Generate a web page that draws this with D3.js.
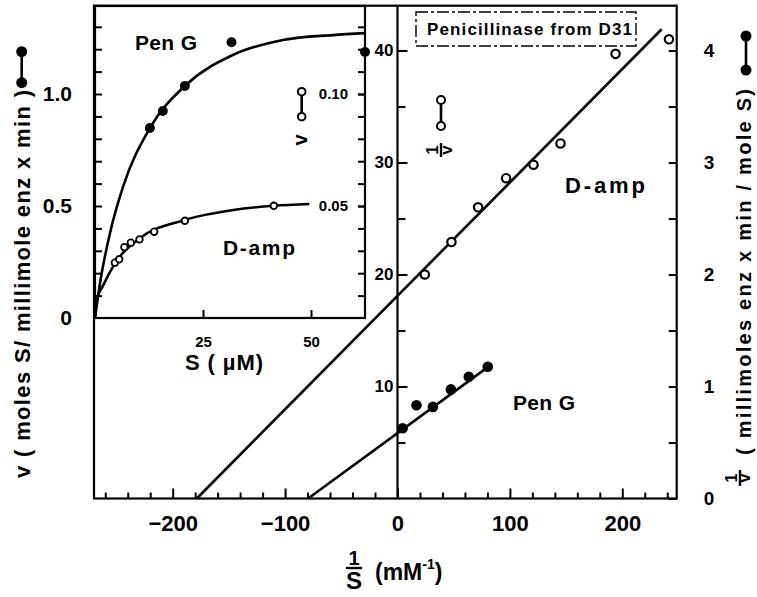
<!DOCTYPE html>
<html><head><meta charset="utf-8">
<script src="https://cdn.jsdelivr.net/npm/d3@7"></script>
<style>
html,body{margin:0;padding:0;background:#fff;}
text{font-family:"Liberation Sans",Arial,sans-serif;font-weight:bold;fill:#000;}
</style></head>
<body>
<svg id="chart" width="757" height="597"></svg>
<script>
// ---------- DATA ----------
// Main Lineweaver-Burk plot: x = 1/S (mM^-1)
const dampInvS   = [24.3, 48.0, 71.7, 96.6, 121, 145, 194, 241.5];
const dampInvV   = [20.0, 22.9, 26.0, 28.6, 29.8, 31.7, 39.7, 41.0];   // left scale (x 1)
const pengInvS   = [4.6, 16.9, 31.5, 47.5, 63.4, 80.3];
const pengInvV   = [0.627, 0.833, 0.818, 0.974, 1.087, 1.177];          // right scale
const dampLineX  = [-178.6, 235];
const dampLineY  = [0, 41.9];
const pengLineX  = [-79.5, 84];
const pengLineY  = [0, 1.2];
// Inset Michaelis-Menten plot: S (µM) vs v
const pengS      = [12.7, 15.7, 20.8, 31.6, 62.5];
const pengV      = [0.848, 0.924, 1.036, 1.231, 1.1875];
const dampS      = [4.6, 5.6, 6.8, 8.3, 10.3, 13.7, 20.8, 41.4];
const dampV      = [0.0247, 0.0262, 0.0316, 0.0336, 0.0351, 0.0385, 0.0434, 0.0501];
const pengCurveS = [0, 1.16, 3.47, 6.48, 12.7, 20.8, 31.9, 43.5, 55.1, 62.5];
const pengCurveV = [0, 0.156, 0.379, 0.585, 0.848, 1.036, 1.174, 1.241, 1.263, 1.272];
const dampCurveS = [0, 0.39, 1.92, 4.63, 10.4, 20.8, 32.0, 41.4, 49.6];
const dampCurveV = [0, 0.0080, 0.0147, 0.0244, 0.0356, 0.0438, 0.0482, 0.0501, 0.0509];
// Tick labels
const xMajorTicks  = [-200, -100, 0, 100, 200];
const leftMainTicks = [10, 20, 30, 40];
const rightTicks   = [0, 1, 2, 3, 4];
const insetLTicks  = [0, 0.5, 1.0];
const insetRTicks  = [0.05, 0.10];
const insetSTicks  = [25, 50];

// ---------- SETUP ----------
const svg = d3.select("#chart");
svg.append("rect").attr("width",757).attr("height",597).attr("fill","#fff");

const x  = d3.scaleLinear().domain([-270, 248.4]).range([94, 676.7]);
const yL = d3.scaleLinear().domain([0, 44]).range([498.5, 5.7]);
const yR = d3.scaleLinear().domain([0, 4.4]).range([498.5, 5.7]);

const sx = d3.scaleLinear().domain([0, 62.5]).range([95, 365]);
const vL = d3.scaleLinear().domain([0, 1.3929]).range([318, 6]);
const vR = d3.scaleLinear().domain([0, 0.13929]).range([318, 6]);

const LW = 2.6;

// ---------- MAIN FRAME ----------
svg.append("rect").attr("x",x(-270)).attr("y",yL(44)).attr("width",x(248.4)-x(-270))
  .attr("height",yL(0)-yL(44)).attr("fill","none").attr("stroke","#000").attr("stroke-width",2.2);

svg.append("line").attr("x1",x(0)).attr("x2",x(0)).attr("y1",yL(44)).attr("y2",yL(0))
  .attr("stroke","#000").attr("stroke-width",2.2);

const minorX = d3.range(-260, 241, 20).filter(v => !xMajorTicks.includes(v));
svg.append("g").attr("transform",`translate(0,${yL(0)})`)
  .call(d3.axisBottom(x).tickValues(minorX).tickSize(-6).tickFormat(""));
const gxMaj = svg.append("g").attr("transform",`translate(0,${yL(0)})`)
  .call(d3.axisBottom(x).tickValues(xMajorTicks).tickSizeInner(-10).tickSizeOuter(0).tickPadding(16.5)
    .tickFormat(d => d < 0 ? "\u2212" + (-d) : d));
gxMaj.selectAll("text").style("font-size","22px");

const gyMid = svg.append("g").attr("transform",`translate(${x(0)},0)`)
  .call(d3.axisLeft(yL).tickValues(leftMainTicks).tickSizeInner(-10).tickSizeOuter(0).tickPadding(4));
gyMid.selectAll("text").style("font-size","17px");
svg.append("g").attr("transform",`translate(${x(0)},0)`)
  .call(d3.axisLeft(yL).tickValues([5,15,25,35]).tickSize(-8).tickFormat(""));

const gyR = svg.append("g").attr("transform",`translate(${x(248.4)},0)`)
  .call(d3.axisRight(yR).tickValues(rightTicks).tickSizeInner(-8).tickSizeOuter(0).tickPadding(27)
    .tickFormat(d3.format("d")));
gyR.selectAll("text").style("font-size","19px");
svg.append("g").attr("transform",`translate(${x(248.4)},0)`)
  .call(d3.axisRight(yR).tickValues([0.5,1.5,2.5,3.5]).tickSize(-8).tickFormat(""));

svg.selectAll(".domain").remove();
svg.selectAll(".tick line").attr("stroke","#000").attr("stroke-width",2);

// ---------- MAIN LINES & POINTS ----------
const lineD = d3.line().x(d => x(d[0])).y(d => yL(d[1]));
const lineP = d3.line().x(d => x(d[0])).y(d => yR(d[1]));
svg.append("path").datum(d3.zip(dampLineX, dampLineY)).attr("d", lineD)
  .attr("fill","none").attr("stroke","#000").attr("stroke-width",LW);
svg.append("path").datum(d3.zip(pengLineX, pengLineY)).attr("d", lineP)
  .attr("fill","none").attr("stroke","#000").attr("stroke-width",LW);

svg.append("g").selectAll("circle").data(d3.zip(dampInvS, dampInvV)).join("circle")
  .attr("cx", d => x(d[0])).attr("cy", d => yL(d[1])).attr("r",4.2)
  .attr("fill","#fff").attr("stroke","#000").attr("stroke-width",2.2);
svg.append("g").selectAll("circle").data(d3.zip(pengInvS, pengInvV)).join("circle")
  .attr("cx", d => x(d[0])).attr("cy", d => yR(d[1])).attr("r",5.3).attr("fill","#000");

svg.append("rect").attr("x",416).attr("y",12).attr("width",220).attr("height",34)
  .attr("fill","#fff").attr("stroke","#000").attr("stroke-width",1.4)
  .attr("stroke-dasharray","12,3,3,3");
svg.append("text").attr("x",427).attr("y",35).attr("textLength",205)
  .style("font-size","17px").text("Penicillinase from D31");

svg.append("text").attr("x",565).attr("y",193).attr("textLength",80).style("font-size","22px").text("D-amp");
svg.append("text").attr("x",513).attr("y",410).attr("textLength",62).style("font-size","21px").text("Pen G");

function dumbbell(g, cx, y1, y2, r, filled){
  g.append("line").attr("x1",cx).attr("x2",cx).attr("y1",y1).attr("y2",y2)
    .attr("stroke","#000").attr("stroke-width",2.6);
  [y1,y2].forEach(yy => g.append("circle").attr("cx",cx).attr("cy",yy).attr("r",r)
    .attr("fill", filled ? "#000" : "#fff").attr("stroke","#000").attr("stroke-width", filled?0:2));
}
function rotFrac(g, cx, cy, top, bottom, size, half){
  const gg = g.append("g").attr("transform",`translate(${cx},${cy}) rotate(-90)`);
  gg.append("text").attr("x",0).attr("y",-3).attr("text-anchor","middle").style("font-size",size+"px").text(top);
  gg.append("line").attr("x1",-half).attr("x2",half).attr("y1",0).attr("y2",0).attr("stroke","#000").attr("stroke-width",2.4);
  gg.append("text").attr("x",0).attr("y",size*0.62).attr("text-anchor","middle").style("font-size",size+"px").text(bottom);
}
dumbbell(svg, 441, 100, 126, 4, false);
rotFrac(svg, 441, 150, "1", "v", 17, 7);

// ---------- INSET ----------
const inset = svg.append("g");
inset.append("rect").attr("x",sx(0)).attr("y",vL(1.3929)).attr("width",sx(62.5)-sx(0))
  .attr("height",vL(0)-vL(1.3929)).attr("fill","#fff").attr("stroke","#000").attr("stroke-width",2.2);

const gil = inset.append("g").attr("transform",`translate(${sx(0)},0)`)
  .call(d3.axisLeft(vL).tickValues(insetLTicks).tickSize(0).tickPadding(23)
    .tickFormat(d => d === 0 ? "0" : d3.format(".1f")(d)));
gil.selectAll("text").style("font-size","21px");
inset.append("g").attr("transform",`translate(${sx(0)},0)`)
  .call(d3.axisLeft(vL).tickValues(d3.range(1,14).map(i => i/10)).tickSize(-7).tickFormat(""));

const gir = inset.append("g").attr("transform",`translate(${sx(62.5)},0)`)
  .call(d3.axisLeft(vR).tickValues(insetRTicks).tickSizeInner(7).tickSizeOuter(0).tickPadding(10)
    .tickFormat(d3.format(".2f")));
gir.selectAll("text").style("font-size","15px");
inset.append("g").attr("transform",`translate(${sx(62.5)},0)`)
  .call(d3.axisLeft(vR).tickValues(d3.range(1,14).map(i => i/100)).tickSize(7).tickFormat(""));

const gib = inset.append("g").attr("transform",`translate(0,${vL(0)})`)
  .call(d3.axisBottom(sx).tickValues(insetSTicks).tickSizeInner(-8).tickSizeOuter(0).tickPadding(18));
gib.selectAll("text").style("font-size","15px");

inset.selectAll(".domain").remove();
inset.selectAll(".tick line").attr("stroke","#000").attr("stroke-width",2);

const curveP = d3.line().x(d => sx(d[0])).y(d => vL(d[1])).curve(d3.curveMonotoneX);
const curveD = d3.line().x(d => sx(d[0])).y(d => vR(d[1])).curve(d3.curveMonotoneX);
inset.append("path").datum(d3.zip(pengCurveS, pengCurveV)).attr("d", curveP)
  .attr("fill","none").attr("stroke","#000").attr("stroke-width",LW);
inset.append("path").datum(d3.zip(dampCurveS, dampCurveV)).attr("d", curveD)
  .attr("fill","none").attr("stroke","#000").attr("stroke-width",LW);

inset.append("g").selectAll("circle").data(d3.zip(pengS, pengV)).join("circle")
  .attr("cx", d => sx(d[0])).attr("cy", d => vL(d[1])).attr("r",5).attr("fill","#000");
inset.append("g").selectAll("circle").data(d3.zip(dampS, dampV)).join("circle")
  .attr("cx", d => sx(d[0])).attr("cy", d => vR(d[1])).attr("r",3.3)
  .attr("fill","#fff").attr("stroke","#000").attr("stroke-width",1.8);

inset.append("text").attr("x",135).attr("y",50).attr("textLength",62).style("font-size","21px").text("Pen G");
inset.append("text").attr("x",223).attr("y",255).attr("textLength",72).style("font-size","21px").text("D-amp");
dumbbell(inset, 301.7, 91.7, 116.7, 3.8, false);
inset.append("text").attr("transform","translate(307,140) rotate(-90)").attr("text-anchor","middle")
  .style("font-size","20px").text("v");
inset.append("text").attr("x",224).attr("y",370).attr("text-anchor","middle").attr("textLength",78)
  .style("font-size","22px").text("S ( \u00b5M)");

// ---------- AXIS TITLES ----------
dumbbell(svg, 21.7, 51.7, 82.7, 5.5, true);
svg.append("text").attr("transform","translate(30,284) rotate(-90)").attr("text-anchor","middle")
  .attr("textLength",388).style("font-size","22px").text("v ( moles S/ millimole enz x min )");

dumbbell(svg, 746, 36, 70, 5.5, true);
svg.append("text").attr("transform","translate(751,272) rotate(-90)").attr("text-anchor","middle")
  .attr("textLength",366).style("font-size","20px").text("( millimoles enz x min / mole S)");
rotFrac(svg, 740, 478, "1", "v", 16, 8);

svg.append("text").attr("x",354).attr("y",565).attr("text-anchor","middle").style("font-size","20px").text("1");
svg.append("line").attr("x1",346).attr("x2",362).attr("y1",568).attr("y2",568).attr("stroke","#000").attr("stroke-width",2.4);
svg.append("text").attr("x",354).attr("y",589).attr("text-anchor","middle").style("font-size","24px").text("S");
const xt = svg.append("text").attr("x",375).attr("y",580).style("font-size","23px");
xt.append("tspan").text("(mM");
xt.append("tspan").attr("dy",-11).style("font-size","14px").text("-1");
xt.append("tspan").attr("dy",11).text(")");
</script>
</body></html>
